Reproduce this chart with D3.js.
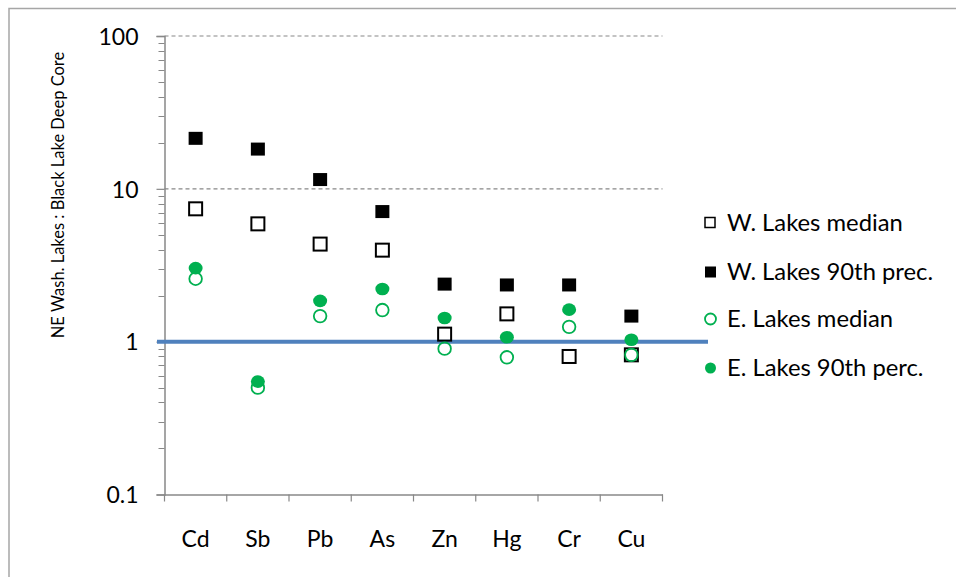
<!DOCTYPE html>
<html><head><meta charset="utf-8">
<script src="https://cdn.jsdelivr.net/npm/d3@7"></script>
<style>body{margin:0;background:#fff}svg{display:block}text{font-family:Lato,"Open Sans",sans-serif;fill:#000}</style>
</head><body><svg id="c" width="956" height="577"></svg>
<script>
const categories = ["Cd","Sb","Pb","As","Zn","Hg","Cr","Cu"];
const wMedian = [7.4, 5.9, 4.35, 3.97, 1.12, 1.52, 0.80, 0.82];
const w90 = [21.4, 18.2, 11.5, 7.1, 2.38, 2.35, 2.35, 1.47];
const eMedian = [2.58, 0.50, 1.47, 1.61, 0.90, 0.79, 1.25, 0.82];
const e90 = [3.03, 0.548, 1.85, 2.21, 1.43, 1.07, 1.62, 1.03];
const yTicks = [0.1, 1, 10, 100];
const seriesNames = ["W. Lakes median","W. Lakes 90th prec.","E. Lakes median","E. Lakes 90th perc."];

const svg = d3.select("#c");
const L = 164.5, R = 662.5, T = 36, B = 494.5;
const x = d3.scaleBand().domain(categories).range([L, R]);
const y = d3.scaleLog().domain([0.1, 100]).range([B, T]);
const green = "#00B050", axisC = "#888888";
const FONT = "Lato,'Open Sans',sans-serif";

// frame
svg.append("path").attr("d", `M9,580 V8.5 H960`).attr("fill","none").attr("stroke","#a6a6a6").attr("stroke-width",1.5);

// gridlines
svg.append("g").selectAll("line").data([10,100]).join("line")
  .attr("x1", L).attr("x2", R).attr("y1", d=>y(d)).attr("y2", d=>y(d))
  .attr("stroke", axisC).attr("stroke-width",1.2).attr("stroke-dasharray","4,3");

// minor ticks
const minor = [];
for (let e = -1; e < 2; e++) for (let m = 2; m <= 9; m++) minor.push(m*Math.pow(10,e));
svg.append("g").selectAll("line").data(minor).join("line")
  .attr("x1", L-6).attr("x2", L).attr("y1", d=>Math.round(y(d))+0.5).attr("y2", d=>Math.round(y(d))+0.5)
  .attr("stroke", axisC).attr("stroke-width",1);

// y axis
const yAxis = d3.axisLeft(y).tickValues(yTicks).tickFormat(d=>String(d)).tickSize(8).tickPadding(18);
const gy = svg.append("g").attr("transform",`translate(${L},0)`).call(yAxis);
gy.select(".domain").attr("stroke",axisC).attr("stroke-width",1.5);
gy.selectAll(".tick line").attr("stroke",axisC).attr("stroke-width",1.2);
gy.selectAll(".tick text").attr("font-size",23).attr("font-family",FONT).attr("fill","#000").attr("dy","0.36em");

// x axis
const xAxis = d3.axisBottom(x).tickSize(0).tickPadding(0);
const gx = svg.append("g").attr("transform",`translate(0,${B})`).call(xAxis);
gx.select(".domain").attr("stroke",axisC).attr("stroke-width",1.5);
gx.selectAll(".tick text").attr("font-size",23).attr("dy","0").attr("y",52).attr("font-family",FONT).attr("fill","#000");
// x boundary ticks
const bounds = categories.map(c=>x(c)).concat([R]);
svg.append("g").selectAll("line").data(bounds).join("line")
  .attr("x1", d=>d).attr("x2", d=>d).attr("y1", B).attr("y2", B+7)
  .attr("stroke", axisC).attr("stroke-width",1.2);

// reference line at 1
svg.append("line").attr("x1",157).attr("x2",708).attr("y1",y(1)).attr("y2",y(1))
  .attr("stroke","#4F81BD").attr("stroke-width",4);

// axis title
svg.append("text").attr("transform","translate(64,195) rotate(-90)").attr("text-anchor","middle")
  .attr("font-size",16.5).text("NE Wash. Lakes : Black Lake Deep Core");

const cx = c => x(c) + x.bandwidth()/2;
const g = svg.append("g");
// W median (open square)
g.selectAll(".wm").data(categories).join("rect")
  .attr("x", (c)=>cx(c)-6.5).attr("y",(c,i)=>y(wMedian[i])-6.5).attr("width",13).attr("height",13)
  .attr("fill","none").attr("stroke","#000").attr("stroke-width",2);
// W 90 (filled square)
g.selectAll(".w9").data(categories).join("rect")
  .attr("x", (c)=>cx(c)-7).attr("y",(c,i)=>y(w90[i])-6.5).attr("width",14).attr("height",13)
  .attr("fill","#000");
// E median (open circle)
g.selectAll(".em").data(categories).join("circle")
  .attr("cx", c=>cx(c)).attr("cy",(c,i)=>y(eMedian[i])).attr("r",6.3)
  .attr("fill","none").attr("stroke",green).attr("stroke-width",1.8);
// E 90 (filled circle)
g.selectAll(".e9").data(categories).join("ellipse")
  .attr("cx", c=>cx(c)).attr("cy",(c,i)=>y(e90[i])).attr("rx",7).attr("ry",6.3)
  .attr("fill",green);

// legend
const ly = [223, 272, 319, 368];
const lg = svg.append("g");
seriesNames.forEach((n,i)=>{
  const yy = ly[i];
  if (i===0) lg.append("rect").attr("x",705).attr("y",yy-5.5).attr("width",10).attr("height",10).attr("fill","none").attr("stroke","#000").attr("stroke-width",1.5);
  if (i===1) lg.append("rect").attr("x",705).attr("y",yy-5.5).attr("width",11).attr("height",11).attr("fill","#000");
  if (i===2) lg.append("circle").attr("cx",710.5).attr("cy",yy).attr("r",5.5).attr("fill","none").attr("stroke",green).attr("stroke-width",1.8);
  if (i===3) lg.append("circle").attr("cx",710.5).attr("cy",yy).attr("r",5.5).attr("fill",green);
  lg.append("text").attr("x",727).attr("y",yy).attr("dy","0.35em").attr("font-size",23.8).text(n);
});
</script></body></html>
